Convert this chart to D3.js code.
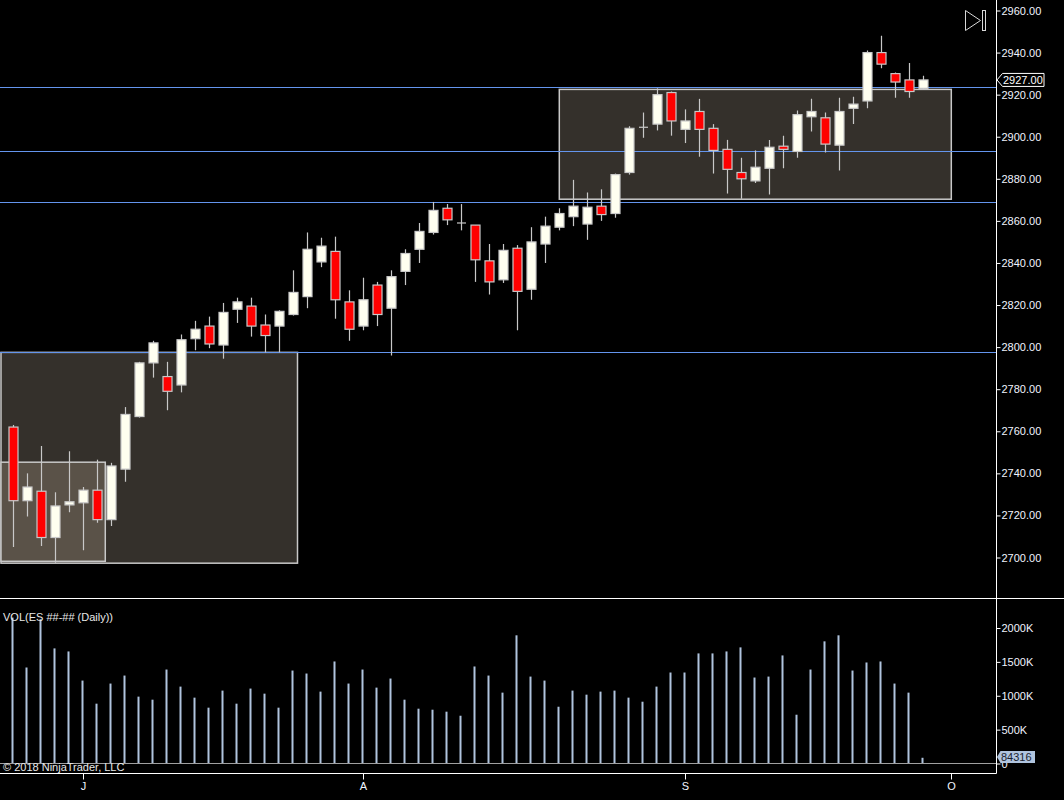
<!DOCTYPE html>
<html>
<head>
<meta charset="utf-8">
<script src="https://cdn.jsdelivr.net/npm/d3@7"></script>
<style>
  body { margin: 0; background: #000; }
  svg { display: block; font-family: "Liberation Sans", Arial, sans-serif; }
</style>
</head>
<body>
<script>
// daily ES bars
var opens  = [2762,2727,2731.5,2709.5,2725,2726,2732,2718,2742,2767,2792.5,2786,2782,2804,2810,2801,2818,2819.5,2810.5,2810,
              2815.5,2824,2840.5,2845.5,2821.5,2810,2829.5,2818.5,2836,2846.5,2854.5,2866,2859,2858,2841,2832,2847,2827.5,2849,2857,
              2862,2858.5,2867,2863.5,2883,2904.5,2906,2921,2903.5,2912,2904,2894,2883,2879,2885,2895.5,2893,2909.5,2909,2896,
              2913.5,2917,2940,2930,2927,2923];
var highs  = [2763,2740,2753,2731,2750.5,2733.5,2746.5,2745,2771.5,2793,2803,2793,2806,2812.5,2814.5,2821,2823.5,2823.5,2815.5,2817.5,
              2836.5,2854.5,2852,2852.5,2827,2833,2831,2836.5,2846.5,2859,2869,2868,2868,2858,2849,2849,2848.5,2857,2862,2866,
              2879.5,2873.5,2875,2882.5,2905,2911.5,2923,2921.5,2913,2918,2906,2898.5,2890,2893.5,2898.5,2900.5,2912.5,2918,2911.5,2918.5,
              2919,2941,2948,2930.5,2935,2929];
var lows   = [2705,2719.5,2705.5,2697.5,2721.5,2703.5,2716.5,2715,2736,2766.5,2785.5,2770,2778.5,2798.5,2799.5,2794.5,2811.5,2805,2797.5,2797.5,
              2815,2818.5,2838,2813.5,2803,2808,2810,2796,2829.5,2840,2853.5,2858,2855.5,2831,2825,2830.5,2808,2822.5,2840,2855.5,
              2857.5,2851,2860,2861.5,2882,2899.5,2903,2900.5,2897,2890.5,2882.5,2873,2870.5,2878,2872.5,2885,2890,2902.5,2892.5,2884,
              2906,2913.5,2932.5,2918.5,2918.5,2922.5];
var closes = [2727,2733.5,2709.5,2724.5,2726.5,2732,2718,2743.5,2768,2792.5,2802,2779,2803.5,2808.5,2801.5,2816.5,2821.5,2810,2805.5,2817,
              2826,2846.5,2848,2822.5,2808.5,2822.5,2815.5,2833.5,2844.5,2855,2865,2860.5,2859,2841.5,2831,2846,2826.5,2850,2857.5,2863.5,
              2867,2866.5,2863,2882,2904,2904.5,2920,2907.5,2907.5,2903.5,2893.5,2884.5,2880,2885.5,2895,2894,2910.5,2912,2896.5,2912,
              2915.5,2940,2934.5,2926,2921.5,2927];
var volumes = [2154000,1417000,2129000,1699000,1654000,1224000,883000,1180000,1298000,987000,942000,1387000,1135000,972000,824000,
               1076000,883000,1106000,1031000,824000,1372000,1328000,1061000,1506000,1180000,1387000,1120000,1254000,942000,809000,
               794000,765000,705000,1432000,1298000,1046000,1892000,1283000,1224000,838000,1076000,1016000,1061000,1076000,972000,
               912000,1135000,1343000,1343000,1625000,1625000,1654000,1714000,1269000,1283000,1595000,720000,1387000,1803000,1892000,
               1372000,1491000,1506000,1180000,1046000,84316];

var priceTicks = [2700,2720,2740,2760,2780,2800,2820,2840,2860,2880,2900,2920,2940,2960];
var volTicks = [0,500000,1000000,1500000,2000000];
var volTickLabels = ["0","500K","1000K","1500K","2000K"];
var monthLabels = ["J","A","S","O"];
var monthBars = [5,25,48,67];

// drawn levels and zones
var levels = [2923.5,2893,2869,2797.5];
var zoneStart = [-0.88,-0.88,39];
var zoneEnd = [20.3,6.57,67];
var zoneTop = [2797.5,2745.3,2922.5];
var zoneBottom = [2697.3,2698.2,2870.3];
var zoneFill = ["#34302b","#5a5248","#34302b"];

var lastPrice = 2927;

var width = 1064, height = 800;
var axisX = 996.5;
var priceBottom = 598.5;
var dateAxisY = 773.5;

var x = d3.scaleLinear().domain([0, 65]).range([13.3, 923.3]);
var y = d3.scaleLinear().domain([2700, 2960]).range([557.5, 10.5]);
var yVol = d3.scaleLinear().domain([0, 2000000]).range([763.5, 628]);

var svg = d3.select("body").append("svg")
    .attr("width", width)
    .attr("height", height);

svg.append("rect").attr("width", width).attr("height", height).attr("fill", "#000");

svg.append("clipPath").attr("id", "pclip")
  .append("rect").attr("x", 0).attr("y", 0).attr("width", axisX).attr("height", priceBottom);

var price = svg.append("g").attr("clip-path", "url(#pclip)");

// zones
price.selectAll("rect.zone")
    .data(zoneStart)
    .enter().append("rect")
    .attr("class", "zone")
    .attr("x", function(d, i) { return x(d); })
    .attr("y", function(d, i) { return y(zoneTop[i]); })
    .attr("width", function(d, i) { return x(zoneEnd[i]) - x(d); })
    .attr("height", function(d, i) { return y(zoneBottom[i]) - y(zoneTop[i]); })
    .attr("fill", function(d, i) { return zoneFill[i]; })
    .attr("stroke", "#c8c8c8")
    .attr("stroke-width", 1.5);

// horizontal levels
price.selectAll("line.level")
    .data(levels)
    .enter().append("line")
    .attr("class", "level")
    .attr("x1", 0)
    .attr("x2", axisX)
    .attr("y1", function(d) { return Math.round(y(d)) + 0.5; })
    .attr("y2", function(d) { return Math.round(y(d)) + 0.5; })
    .attr("stroke", "#6495ed")
    .attr("stroke-width", 1);

// candles
var bodyW = 9;
var candle = price.selectAll("g.candle")
    .data(opens)
    .enter().append("g")
    .attr("class", "candle");

candle.append("line")
    .attr("x1", function(d, i) { return Math.round(x(i)) + 0.5; })
    .attr("x2", function(d, i) { return Math.round(x(i)) + 0.5; })
    .attr("y1", function(d, i) { return y(highs[i]); })
    .attr("y2", function(d, i) { return y(lows[i]); })
    .attr("stroke", "#c8c8c8")
    .attr("stroke-width", 1.2);

candle.append("rect")
    .attr("x", function(d, i) { return Math.round(x(i)) + 0.5 - bodyW / 2; })
    .attr("y", function(d, i) { return y(Math.max(d, closes[i])); })
    .attr("width", bodyW)
    .attr("height", function(d, i) { return Math.max(0.01, Math.abs(y(d) - y(closes[i]))); })
    .attr("fill", function(d, i) { return closes[i] < d ? "#ff0000" : "#fffff0"; })
    .attr("stroke", "#c8c8c8")
    .attr("stroke-width", function(d, i) { return d == closes[i] ? 0 : 1.2; });

// doji ticks
candle.filter(function(d, i) { return d == closes[i]; })
  .append("line")
    .attr("x1", function(d) { return Math.round(x(opens.indexOf(d))) + 0.5 - bodyW / 2; })
    .attr("x2", function(d) { return Math.round(x(opens.indexOf(d))) + 0.5 + bodyW / 2; })
    .attr("y1", function(d) { return y(d); })
    .attr("y2", function(d) { return y(d); })
    .attr("stroke", "#c8c8c8")
    .attr("stroke-width", 1.2);

// volume bars
svg.append("g").selectAll("line")
    .data(volumes)
    .enter().append("line")
    .attr("x1", function(d, i) { return Math.round(x(i)) - 0.5; })
    .attr("x2", function(d, i) { return Math.round(x(i)) - 0.5; })
    .attr("y1", yVol(0))
    .attr("y2", function(d) { return yVol(d); })
    .attr("stroke", "#b0c4de")
    .attr("stroke-width", 2);

svg.append("line")
    .attr("x1", 0).attr("x2", axisX)
    .attr("y1", yVol(0)).attr("y2", yVol(0))
    .attr("stroke", "#a0a0a0");

// panel frame
svg.append("line").attr("x1", 0).attr("x2", width).attr("y1", priceBottom).attr("y2", priceBottom)
    .attr("stroke", "#fff");
svg.append("line").attr("x1", 0).attr("x2", axisX).attr("y1", dateAxisY).attr("y2", dateAxisY)
    .attr("stroke", "#fff");
svg.append("line").attr("x1", axisX).attr("x2", axisX).attr("y1", 0).attr("y2", dateAxisY)
    .attr("stroke", "#fff");

// price axis
var yAxis = d3.axisRight(y)
    .tickValues(priceTicks)
    .tickFormat(d3.format(".2f"))
    .tickSize(4)
    .tickPadding(1);

var yg = svg.append("g")
    .attr("transform", "translate(" + axisX + ",0)")
    .call(yAxis);
yg.select(".domain").remove();
yg.selectAll(".tick line").attr("stroke", "#fff");
yg.selectAll(".tick text").attr("fill", "#f0f4ff").attr("font-size", 11)
    .attr("font-family", "'Liberation Sans', Arial, sans-serif");

// volume axis
var vAxis = d3.axisRight(yVol)
    .tickValues(volTicks)
    .tickFormat(function(d, i) { return volTickLabels[i]; })
    .tickSize(4)
    .tickPadding(1);

var vg = svg.append("g")
    .attr("transform", "translate(" + axisX + ",0)")
    .call(vAxis);
vg.select(".domain").remove();
vg.selectAll(".tick line").attr("stroke", "#fff");
vg.selectAll(".tick text").attr("fill", "#f0f4ff").attr("font-size", 11)
    .attr("font-family", "'Liberation Sans', Arial, sans-serif");

// date axis
var dg = svg.append("g");
dg.selectAll("line")
    .data(monthBars)
    .enter().append("line")
    .attr("x1", function(d) { return Math.round(x(d)) + 0.5; })
    .attr("x2", function(d) { return Math.round(x(d)) + 0.5; })
    .attr("y1", dateAxisY)
    .attr("y2", dateAxisY + 6)
    .attr("stroke", "#fff");
dg.selectAll("text")
    .data(monthBars)
    .enter().append("text")
    .attr("x", function(d) { return Math.round(x(d)) + 0.5; })
    .attr("y", 790)
    .attr("text-anchor", "middle")
    .attr("fill", "#f0f4ff")
    .attr("font-size", 11)
    .text(function(d, i) { return monthLabels[i]; });

// last price marker
var ly = y(lastPrice);
svg.append("path")
    .attr("d", "M" + (axisX + 0.5) + "," + ly + " L" + (axisX + 6) + "," + (ly - 6.5) + " L1044," + (ly - 6.5) +
               " L1044," + (ly + 6.5) + " L" + (axisX + 6) + "," + (ly + 6.5) + " Z")
    .attr("fill", "#000")
    .attr("stroke", "#fff");
svg.append("text")
    .attr("x", 1003).attr("y", ly + 4)
    .attr("fill", "#fff").attr("font-size", 11)
    .text(d3.format(".2f")(lastPrice));

// last volume marker
var lastVol = volumes[volumes.length - 1];
var vy = 757;
svg.append("path")
    .attr("d", "M" + (axisX + 0.5) + "," + vy + " L" + (axisX + 4) + "," + (vy - 6) + " L1035," + (vy - 6) +
               " L1035," + (vy + 6) + " L" + (axisX + 4) + "," + (vy + 6) + " Z")
    .attr("fill", "#b0c4de");
svg.append("text")
    .attr("x", 1001).attr("y", vy + 4)
    .attr("fill", "#1a1f2e").attr("font-size", 11)
    .text(lastVol);

// titles
svg.append("text")
    .attr("x", 3).attr("y", 621)
    .attr("fill", "#e8e8e8").attr("font-size", 11)
    .text("VOL(ES ##-## (Daily))");
svg.append("text")
    .attr("x", 3).attr("y", 771)
    .attr("fill", "#e8e8e8").attr("font-size", 11)
    .text("© 2018 NinjaTrader, LLC");

// scroll-to-end icon
svg.append("path")
    .attr("d", "M965.5,10.5 L980.5,20.5 L965.5,30.5 Z")
    .attr("fill", "none").attr("stroke", "#d8d8d8").attr("stroke-width", 1);
svg.append("rect")
    .attr("x", 982.5).attr("y", 10.5).attr("width", 3).attr("height", 20)
    .attr("fill", "none").attr("stroke", "#d8d8d8").attr("stroke-width", 1);
</script>
</body>
</html>
